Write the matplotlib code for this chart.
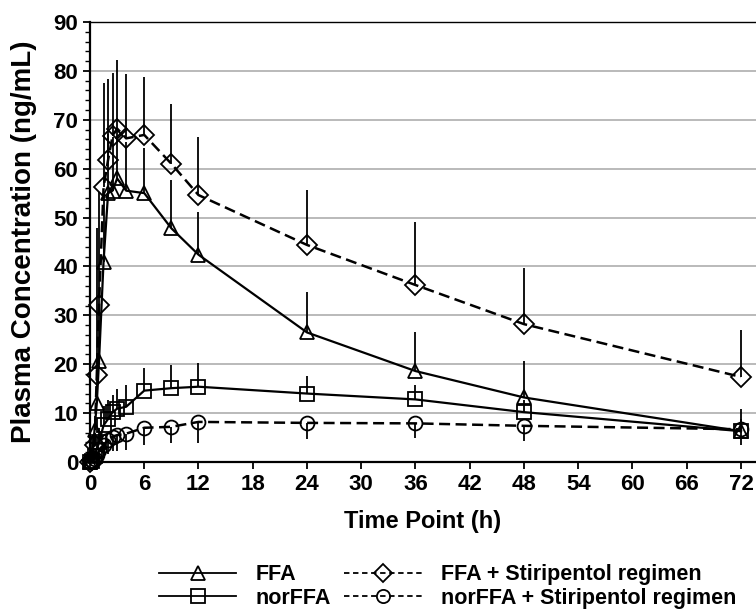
import numpy as np
import matplotlib
matplotlib.use('Agg')
import matplotlib.pyplot as plt
from matplotlib.lines import Line2D
from matplotlib.ticker import MultipleLocator

plt.rcParams['font.family'] = ['Liberation Sans', 'DejaVu Sans']
plt.rcParams['font.weight'] = 'bold'

# time points (h)
time_h = [0, 0.25, 0.5, 0.75, 1, 1.5, 2, 2.5, 3, 4, 6, 9, 12, 24, 36, 48, 72]

# FFA alone
ffa_mean = [0, 1.5, 6.5, 12.0, 20.7, 41.0, 55.0, 55.5, 58.0, 55.5, 55.0, 47.8, 42.4, 26.5, 18.6, 13.2, 6.3]
ffa_sd = [0, 1.0, 3.0, 6.0, 10.0, 14.0, 12.0, 11.0, 10.0, 10.0, 9.3, 9.9, 8.8, 8.3, 7.9, 7.5, 4.5]

# FFA + Stiripentol regimen
ffa_stp_mean = [0, 0.5, 3.5, 17.8, 32.2, 56.2, 61.8, 66.7, 68.2, 66.2, 66.9, 61.0, 54.6, 44.4, 36.2, 28.2, 17.4]
ffa_stp_sd = [0, 1.0, 2.5, 30.0, 23.0, 21.4, 16.5, 12.9, 14.1, 13.1, 11.9, 12.2, 11.9, 11.2, 12.8, 11.5, 9.6]

# norFFA alone
nor_mean = [0, 0.3, 1.2, 2.5, 4.0, 7.5, 8.8, 10.2, 10.9, 11.3, 14.6, 15.1, 15.4, 14.0, 12.8, 10.2, 6.3]
nor_sd = [0, 0.5, 1.5, 2.5, 3.0, 4.0, 3.9, 3.6, 4.0, 4.4, 4.6, 4.7, 4.8, 3.6, 2.9, 2.5, 2.5]

# norFFA + Stiripentol regimen
nor_stp_mean = [0, 0.2, 0.6, 1.5, 2.5, 3.5, 4.5, 5.2, 5.5, 5.8, 7.0, 7.2, 8.2, 8.0, 7.9, 7.4, 6.7]
nor_stp_sd = [0, 0.2, 0.5, 1.2, 2.0, 2.5, 2.8, 3.0, 3.2, 3.3, 3.6, 3.4, 4.4, 3.2, 2.9, 3.2, 3.2]

zeros = [0] * len(time_h)

fig = plt.figure(figsize=(7.56, 6.11), dpi=100)
ax = fig.add_axes([90 / 756, 149 / 611, 666 / 756, 440 / 611])

dash = (0, (4.4, 2.2))
common = dict(color='black', mfc='none', mec='black', mew=1.3, ecolor='black',
              elinewidth=1.3, capsize=0, clip_on=False)

ax.errorbar(time_h, ffa_stp_mean, yerr=[zeros, ffa_stp_sd], marker='D', ms=10.5,
            ls=dash, lw=1.8, **common)
ax.errorbar(time_h, ffa_mean, yerr=[zeros, ffa_sd], marker='^', ms=10.5,
            ls='-', lw=1.6, **common)
ax.errorbar(time_h, nor_mean, yerr=[zeros, nor_sd], marker='s', ms=9.5,
            ls='-', lw=1.6, **common)
ax.errorbar(time_h, nor_stp_mean, yerr=[nor_stp_sd, zeros], marker='o', ms=10,
            ls=dash, lw=1.8, **common)

ax.set_xlim(0, 73.66)
ax.set_ylim(0, 90)
ax.yaxis.set_major_locator(MultipleLocator(10))
ax.yaxis.set_minor_locator(MultipleLocator(2))
ax.set_xticks(range(0, 73, 6))

ax.grid(axis='y', which='major', color='#b4b4b4', lw=1.3)
ax.set_axisbelow(True)

ax.spines['right'].set_visible(False)
ax.spines['top'].set_linewidth(1.0)
ax.spines['left'].set_linewidth(1.6)
ax.spines['bottom'].set_linewidth(1.6)
ax.tick_params(axis='both', which='major', direction='out', length=5, width=1.3,
               labelsize=16)
ax.tick_params(axis='y', which='minor', direction='out', length=3.5, width=1.0)
for lab in ax.get_xticklabels() + ax.get_yticklabels():
    lab.set_fontweight('bold')

ax.set_xlabel('Time Point (h)', fontsize=17, fontweight='bold', labelpad=11)
ax.set_ylabel('Plasma Concentration (ng/mL)', fontsize=20, fontweight='bold')
ax.yaxis.set_label_coords(-0.079, 0.5)

handles = [
    Line2D([], [], color='black', lw=1.3, marker='^', ms=10, mfc='none', mew=1.3),
    Line2D([], [], color='black', lw=1.3, marker='s', ms=9.5, mfc='none', mew=1.3),
    Line2D([], [], color='black', lw=1.3, ls=(0, (3, 2)), marker='D', ms=9, mfc='none', mew=1.3),
    Line2D([], [], color='black', lw=1.3, ls=(0, (3, 2)), marker='o', ms=9.5, mfc='none', mew=1.3),
]
labels = ['FFA', 'norFFA', 'FFA + Stiripentol regimen', 'norFFA + Stiripentol regimen']
fig.legend(handles, labels, loc='center', bbox_to_anchor=(0.592, 0.040), ncol=2,
           frameon=False, handlelength=3.6, handletextpad=0.9,
           columnspacing=0.6, labelspacing=0.1, borderpad=0,
           prop={'weight': 'bold', 'size': 15.5})

fig.savefig('out.png', dpi=100)
